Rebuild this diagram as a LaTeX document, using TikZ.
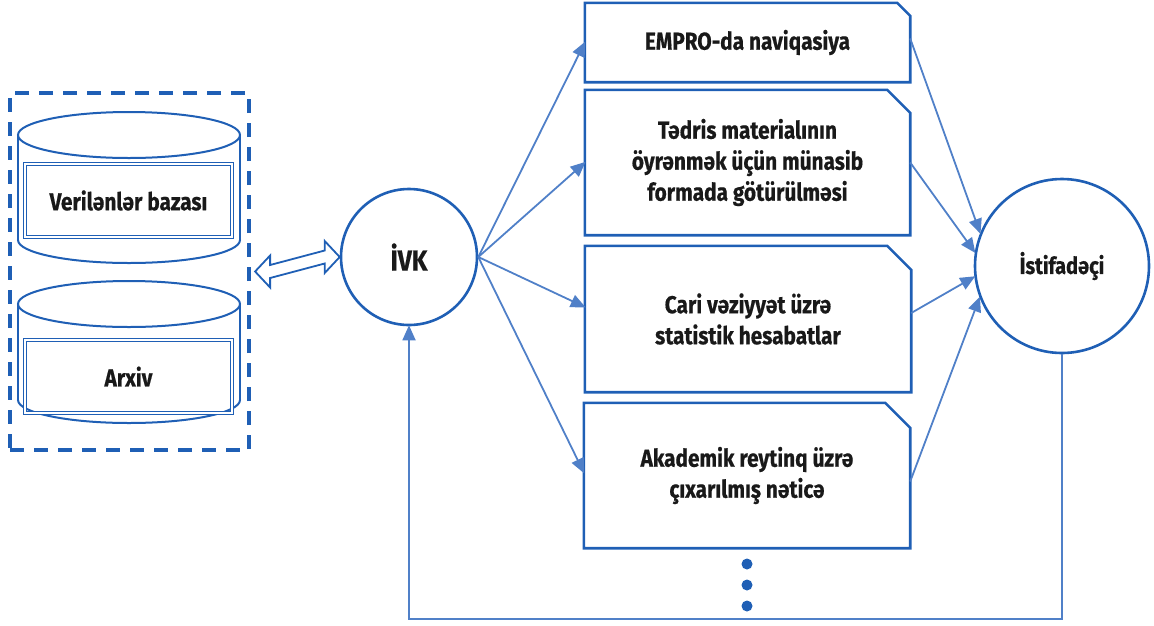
\documentclass[tikz,border=0pt]{standalone}
\usepackage{fontspec}
\setmainfont{Fira Sans}[FakeStretch=0.85, FakeBold=0.6]
\usetikzlibrary{arrows.meta,calc}
\definecolor{mblue}{RGB}{31,95,181}
\definecolor{lblue}{RGB}{80,128,200}
\definecolor{tblack}{RGB}{25,25,25}
\tikzset{
  lbl/.style={font=\fontsize{24.5}{31}\selectfont\bfseries, text=tblack, align=center},
  boxn/.style={lbl, rectangle, inner sep=0pt},
  boxline/.style={draw=mblue, line width=2.6pt, line join=miter},
  circ/.style={circle, draw=mblue, line width=2.6pt, inner sep=0pt, fill=white},
  conn/.style={draw=lblue, line width=1.8pt, -{Triangle[length=15pt,width=13pt]}, shorten >=-1pt},
  cyl/.style={draw=mblue, line width=2pt},
  dbrect/.style={lbl, rectangle, draw=mblue, double=white, double distance=1.4pt, line width=1.3pt, inner sep=0pt},
  dbox/.style={rectangle, draw=mblue, line width=4.2pt, dash pattern=on 14pt off 10pt, inner sep=0pt},
  harrow/.style={draw=mblue, line width=1.8pt, line join=miter, fill=white},
}
\newcommand{\cutbox}[2]{% name, cut
  \draw[boxline] (#1.south west) -- (#1.north west) -- ([xshift=-#2pt]#1.north east) -- ([yshift=-#2pt]#1.north east) -- (#1.south east) -- cycle;}
\newcommand{\mycyl}[3]{% cx, top cy, bottom cy
  \draw[cyl] (#1,#3) ellipse [x radius=111, y radius=23];
  \fill[white] (#1-111,#2) rectangle (#1+111,#3);
  \draw[cyl] (#1-111,#2) -- (#1-111,#3) (#1+111,#2) -- (#1+111,#3);
  \draw[cyl, fill=white] (#1,#2) ellipse [x radius=111, y radius=23];}
\begin{document}
\begin{tikzpicture}[x=1pt,y=-1pt]
\useasboundingbox (0,0) rectangle (1154,625);
% dashed container
\node[dbox, minimum width=239, minimum height=357] (db) at (129.5,271.5) {};
% cylinders
\mycyl{129}{135}{240}
\node[dbrect, minimum width=207, minimum height=73] (dbase) at (128.5,200.5) {Verilənlər bazası};
\mycyl{129}{304}{400}
\node[dbrect, minimum width=207, minimum height=73] (arx) at (128.5,376.5) {Arxiv};
% circles
\node[circ, minimum size=136, font=\fontsize{29}{32}\selectfont\bfseries, text=tblack] (ivk) at (409,257) {İVK};
\node[circ, minimum size=174, font=\fontsize{23.5}{28}\selectfont\bfseries, text=tblack] (ist) at (1062,266) {İstifadəçi};
% boxes
\node[boxn, minimum width=325, minimum height=79] (b1) at (747.5,42.5) {EMPRO-da naviqasiya};
\node[boxn, minimum width=325, minimum height=145] (b2) at (747.5,162.5) {Tədris materialının\\öyrənmək üçün münasib\\formada götürülməsi};
\node[boxn, minimum width=326, minimum height=146] (b3) at (748,319) {Cari vəziyyət üzrə\\statistik hesabatlar};
\node[boxn, minimum width=326, minimum height=145] (b4) at (747,475.5) {Akademik reytinq üzrə\\çıxarılmış nəticə};
\cutbox{b1}{13}
\cutbox{b2}{23}
\cutbox{b3}{24}
\cutbox{b4}{25}
% double hollow arrow
\coordinate (L) at ([xshift=4pt]db.east);
\coordinate (R) at (ivk.west);
\draw[harrow] (L) -- ($(L)+(15,-16)$) -- ($(L)+(15,-6.5)$) -- ($(R)+(-15,-6.5)$) -- ($(R)+(-15,-16)$) -- (R)
  -- ($(R)+(-15,16)$) -- ($(R)+(-15,6.5)$) -- ($(L)+(15,6.5)$) -- ($(L)+(15,16)$) -- cycle;
% connectors from IVK
\draw[conn] (ivk.east) -- (b1.west);
\draw[conn] (ivk.east) -- (b2.west);
\draw[conn] (ivk.east) -- ([yshift=12pt]b3.west);
\draw[conn] (ivk.east) -- ([yshift=3pt]b4.west);
% connectors to user
\draw[conn] ([yshift=4pt]b1.east) -- (ist.158);
\draw[conn] (b2.east) -- (ist.171);
\draw[conn] ([yshift=6pt]b3.east) -- (ist.187);
\draw[conn] ([yshift=-6pt]b4.east) -- (ist.201);
% feedback
\coordinate (fbl) at (409,619);
\draw[conn] (ist.south) -- (ist.south |- fbl) -- (fbl) -- (ivk.south);
% dots
\foreach \yy in {564,585,606} \fill[mblue] (747,\yy) circle [radius=5.5];
\end{tikzpicture}
\end{document}
